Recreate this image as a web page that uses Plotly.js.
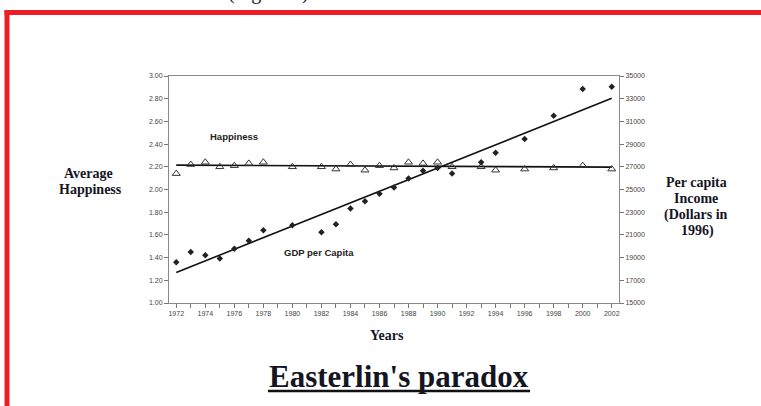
<!DOCTYPE html>
<html>
<head>
<meta charset="utf-8">
<script src="https://cdn.plot.ly/plotly-3.0.1.min.js"></script>
<style>html,body{margin:0;padding:0;background:#fff;}#chart{width:761px;height:406px;}</style>
</head>
<body>
<div id="chart"></div>
<script>
// ---- data ----
const years = [1972,1973,1974,1975,1976,1977,1978,1980,1982,1983,1984,1985,1986,1987,1988,1989,1990,1991,1993,1994,1996,1998,2000,2002];
const happiness = [2.14,2.22,2.24,2.20,2.21,2.23,2.24,2.20,2.20,2.18,2.22,2.17,2.21,2.19,2.24,2.23,2.24,2.20,2.20,2.17,2.18,2.19,2.21,2.18];
const gdpPerCapita = [18600,19490,19200,18930,19780,20490,21400,21850,21230,21940,23320,23970,24620,25180,25970,26650,26890,26420,27390,28230,29460,31500,33850,34060];
const trendYears = [1972, 2002];
const happinessTrend = [2.215, 2.197];
const gdpTrend = [17690, 33030];
const happinessTicks = [1.0,1.2,1.4,1.6,1.8,2.0,2.2,2.4,2.6,2.8,3.0];
const incomeTicks = [15000,17000,19000,21000,23000,25000,27000,29000,31000,33000,35000];
const yearTicks = [1972,1974,1976,1978,1980,1982,1984,1986,1988,1990,1992,1994,1996,1998,2000,2002];

// ---- layout helpers (pixel -> paper) ----
const W = 761, H = 406;
const M = {l:169, r:142, t:76, b:103};
const PW = W - M.l - M.r, PH = H - M.t - M.b;
const px = x => (x - M.l) / PW;
const py = y => (H - M.b - y) / PH;

const serif = "Liberation Serif, Times New Roman, serif";
const sans = "Liberation Sans, Arial, sans-serif";
const txtCol = "#15151f";

const traces = [
  {x: trendYears, y: happinessTrend, mode: 'lines', line: {color: '#111', width: 1.6}, yaxis: 'y', hoverinfo: 'skip'},
  {x: trendYears, y: gdpTrend, mode: 'lines', line: {color: '#111', width: 1.6}, yaxis: 'y2', hoverinfo: 'skip'},
  {x: years, y: happiness, mode: 'markers', yaxis: 'y',
   marker: {symbol: 'triangle-up-open', size: 7, color: '#333', line: {width: 1, color: '#333'}}},
  {x: years, y: gdpPerCapita, mode: 'markers', yaxis: 'y2',
   marker: {symbol: 'diamond', size: 5, color: '#222'}}
];

const tickFont = {family: sans, size: 7, color: '#444'};

const ann = (x, y, text, size, extra) => Object.assign({
  xref: 'paper', yref: 'paper', x: px(x), y: py(y), text: text, showarrow: false,
  xanchor: 'center', yanchor: 'middle',
  font: {family: serif, size: size, color: txtCol}
}, extra || {});

const layout = {
  width: W, height: H,
  margin: M,
  paper_bgcolor: '#fff', plot_bgcolor: '#fff',
  showlegend: false,
  xaxis: {
    range: [1971.5, 2002.5], tickvals: yearTicks, ticktext: yearTicks.map(String),
    ticks: 'outside', ticklen: 4, tickcolor: '#777', tickwidth: 1,
    minor: {dtick: 1, tick0: 1972, ticks: 'outside', ticklen: 4, tickcolor: '#777', showgrid: false},
    showline: true, linecolor: '#888', linewidth: 1, mirror: true,
    showgrid: false, zeroline: false, tickfont: tickFont
  },
  yaxis: {
    range: [1.0, 3.0], tickvals: happinessTicks, tickformat: '.2f',
    ticks: 'outside', ticklen: 4, tickcolor: '#777',
    showline: true, linecolor: '#888', linewidth: 1,
    showgrid: false, zeroline: false, tickfont: tickFont
  },
  yaxis2: {
    range: [15000, 35000], tickvals: incomeTicks, ticktext: incomeTicks.map(String),
    side: 'right', overlaying: 'y',
    ticks: 'outside', ticklen: 4, tickcolor: '#777',
    showline: true, linecolor: '#888', linewidth: 1,
    showgrid: false, zeroline: false, tickfont: tickFont
  },
  annotations: [
    {xref: 'x', yref: 'y', x: 1975.95, y: 2.466, text: '<b>Happiness</b>', showarrow: false,
     font: {family: sans, size: 9.5, color: '#222'}},
    {xref: 'x', yref: 'y', x: 1981.8, y: 1.449, text: '<b>GDP per Capita</b>', showarrow: false,
     font: {family: sans, size: 9.5, color: '#222'}},
    ann(88, 173.5, '<b>Average</b>', 14),
    ann(90, 189, '<b>Happiness</b>', 14),
    ann(696, 182.7, '<b>Per capita</b>', 14),
    ann(696, 198.5, '<b>Income</b>', 14),
    ann(696, 214.5, '<b>(Dollars in</b>', 14),
    ann(697, 230.5, '<b>1996)</b>', 14),
    ann(387, 335, '<b>Years</b>', 14),
    ann(399, 376, '<b>Easterlin\'s paradox</b>', 31),
    ann(268, -8, '(Figure 1)', 20)
  ],
  shapes: [
    // red frame
    {type: 'line', xref: 'paper', yref: 'paper', x0: px(7), x1: px(7), y0: py(10.5), y1: py(410), line: {color: '#ee1c25', width: 5}},
    {type: 'line', xref: 'paper', yref: 'paper', x0: px(4.5), x1: px(765), y0: py(12.5), y1: py(12.5), line: {color: '#ee1c25', width: 5}},
    // title underline
    {type: 'line', xref: 'paper', yref: 'paper', x0: px(268), x1: px(530), y0: py(391), y1: py(391), line: {color: '#111', width: 2.5}}
  ]
};

Plotly.newPlot('chart', traces, layout, {staticPlot: true, displayModeBar: false});
</script>
</body>
</html>
